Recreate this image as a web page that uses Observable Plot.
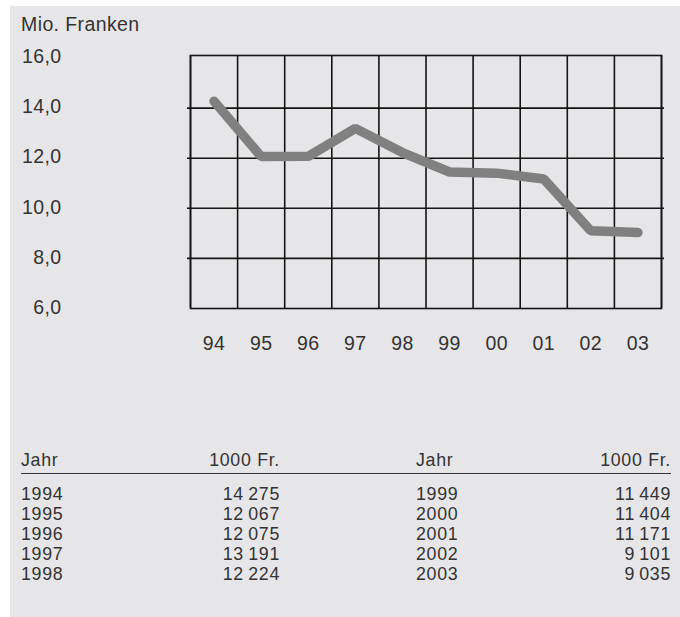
<!DOCTYPE html>
<html>
<head>
<meta charset="utf-8">
<script src="https://cdn.jsdelivr.net/npm/d3@7"></script>
<script src="https://cdn.jsdelivr.net/npm/@observablehq/plot@0.6"></script>
<style>
  html, body { margin: 0; padding: 0; background: #ffffff; }
  body { width: 680px; height: 617px; position: relative; overflow: hidden;
         font-family: "Liberation Sans", Arial, sans-serif; color: #333; }
  #panel { position: absolute; left: 10px; top: 6px; width: 670px; height: 611px; background: #e6e6e8; }
  #title { position: absolute; left: 11px; top: 8px; font-size: 19.5px; line-height: 20px; letter-spacing: 0.4px; }
  #chart { position: absolute; left: 0; top: 30px; }
  #table { position: absolute; left: 11px; top: 445px; width: 650px; font-size: 17.8px; letter-spacing: 0.7px; }
  .row { display: grid; grid-template-columns: 130px 129px 136px 100px 155px; height: 20px; line-height: 20px; }
  .row > div { white-space: nowrap; }
  .head { height: 19px; line-height: 19px; padding-bottom: 3px; border-bottom: 1.3px solid #333; margin-bottom: 10px; }
  .r { text-align: right; }
</style>
</head>
<body>
<div id="panel">
  <div id="title">Mio. Franken</div>
  <div id="chart"></div>
  <div id="table"></div>
</div>
<script>
// ---- data ----
const yearLabels = ["94", "95", "96", "97", "98", "99", "00", "01", "02", "03"];
const years = [1994, 1995, 1996, 1997, 1998, 1999, 2000, 2001, 2002, 2003];
const values = [14275, 12067, 12075, 13191, 12224, 11449, 11404, 11171, 9101, 9035]; // 1000 Fr.
const yTickValues = [6, 8, 10, 12, 14, 16];
const yGridValues = [8, 10, 12, 14];
const unitLabel = "Mio. Franken";
const tableHeaders = ["Jahr", "1000 Fr.", "Jahr", "1000 Fr."];

const locale = d3.formatLocale({decimal: ",", thousands: "\u2009", grouping: [3], currency: ["", ""]});
const fmtY = locale.format(".1f");
const fmtN = locale.format(",d");

const data = values.map((v, i) => ({i, v: v / 1000}));
const idx = d3.range(years.length);
const boundaries = d3.range(years.length + 1).map(k => k - 0.5);

const stroke = "#141414";
const chart = Plot.plot({
  width: 670,
  height: 330,
  marginLeft: 180,
  marginRight: 19,
  marginTop: 19,
  marginBottom: 58,
  style: {fontFamily: "Liberation Sans, Arial, sans-serif", fontSize: "19.5px", color: "#333", background: "transparent", letterSpacing: "0.4px"},
  x: {domain: [-0.5, years.length - 0.5], axis: null},
  y: {domain: [6, 16.1], axis: null},
  marks: [
    Plot.ruleX(boundaries, {stroke, strokeWidth: 1.6}),
    Plot.ruleY(yGridValues, {stroke, strokeWidth: 1.6, insetLeft: -3, insetRight: -3}),
    Plot.frame({stroke, strokeWidth: 1.6}),
    Plot.line(data, {x: "i", y: "v", stroke: "#808080", strokeWidth: 9.5, strokeLinejoin: "miter", strokeLinecap: "round"}),
    Plot.axisY(yTickValues, {anchor: "left", tickSize: 0, tickPadding: 129, tickFormat: fmtY, dy: -1, label: null, fill: "#333"}),
    Plot.axisX(idx, {anchor: "bottom", ticks: idx, tickSize: 0, tickPadding: 28, tickFormat: i => yearLabels[i], label: null, fill: "#333"})
  ]
});
document.getElementById("chart").appendChild(chart);
document.getElementById("title").textContent = unitLabel;

// ---- table ----
const table = document.getElementById("table");
const head = document.createElement("div");
head.className = "row head";
head.innerHTML = `<div>${tableHeaders[0]}</div><div class="r">${tableHeaders[1]}</div><div></div><div>${tableHeaders[2]}</div><div class="r">${tableHeaders[3]}</div>`;
table.appendChild(head);
const half = Math.ceil(years.length / 2);
for (let k = 0; k < half; k++) {
  const row = document.createElement("div");
  row.className = "row";
  const j = k + half;
  row.innerHTML = `<div>${years[k]}</div><div class="r">${fmtN(values[k])}</div><div></div>` +
    (j < years.length ? `<div>${years[j]}</div><div class="r">${fmtN(values[j])}</div>` : `<div></div><div></div>`);
  table.appendChild(row);
}
</script>
</body>
</html>
